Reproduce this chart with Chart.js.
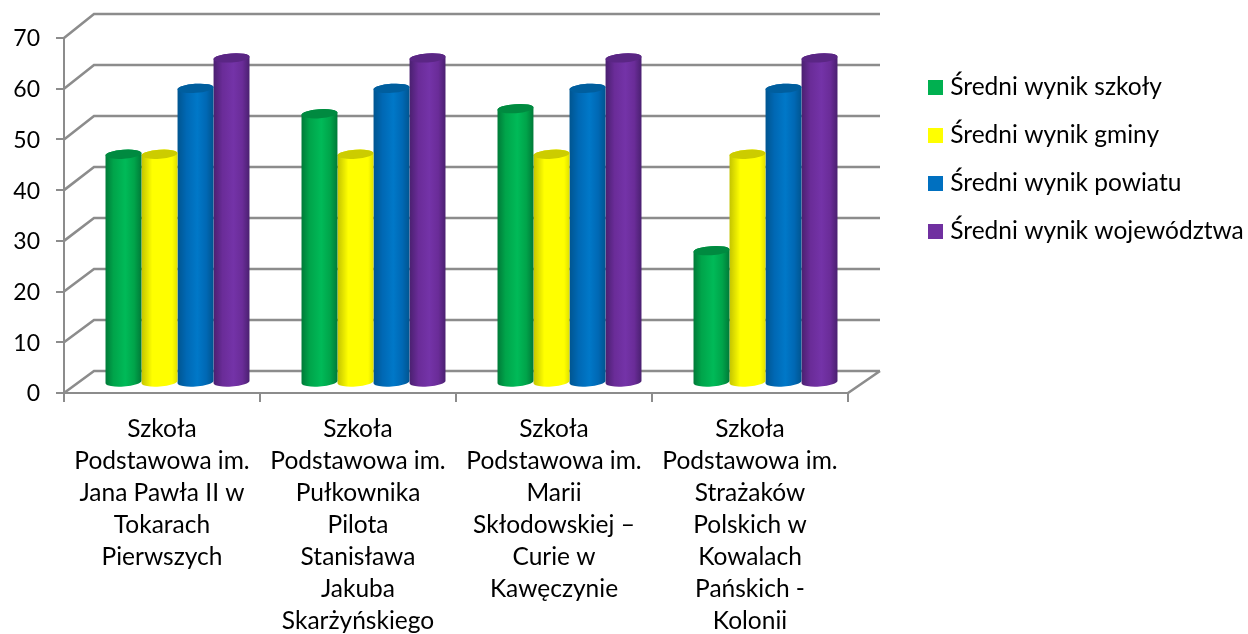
<!DOCTYPE html>
<html><head><meta charset="utf-8">
<style>html,body{margin:0;padding:0;background:#fff}#w{width:1248px;height:634px}</style>
<script src="https://cdn.jsdelivr.net/npm/chart.js@4"></script>
</head><body><div id="w"><canvas id="c" width="1248" height="634"></canvas></div>
<script>
const categories = [
  ["Szkoła","Podstawowa im.","Jana Pawła II w","Tokarach","Pierwszych"],
  ["Szkoła","Podstawowa im.","Pułkownika","Pilota","Stanisława","Jakuba","Skarżyńskiego"],
  ["Szkoła","Podstawowa im.","Marii","Skłodowskiej –","Curie w","Kawęczynie"],
  ["Szkoła","Podstawowa im.","Strażaków","Polskich w","Kowalach","Pańskich -","Kolonii"]
];
const seriesNames = ["Średni wynik szkoły","Średni wynik gminy","Średni wynik powiatu","Średni wynik województwa"];
const szkola = [45,53,54,26];
const gmina = [45,45,45,45];
const powiat = [58,58,58,58];
const wojewodztwo = [64,64,64,64];
const baseColors = ["#00B050","#FFFF00","#0070C0","#7030A0"];
const capColors = ["#008A40","#CCCC00","#005E9E","#5A2684"];
const stops = [
  [[0,"#007A38"],[0.22,"#00A44A"],[0.55,"#00BA58"],[0.8,"#00A44A"],[1,"#007A38"]],
  [[0,"#C4C400"],[0.3,"#FFFF00"],[0.85,"#FFFF00"],[1,"#E0E000"]],
  [[0,"#005590"],[0.25,"#0068B4"],[0.55,"#0078C8"],[0.8,"#0068B4"],[1,"#005590"]],
  [[0,"#4A2070"],[0.25,"#6A2C98"],[0.55,"#7433A8"],[0.8,"#6A2C98"],[1,"#4A2070"]]
];
const GRID = "#8C8C8C", DX = 30, BAR_DX = 15.5, BAR_DY = -10.5;
const backY = (py, v) => py - 22 - 2 * (v / 70);

const swatches = baseColors.map(c => {
  const s = document.createElement("canvas");
  s.width = 15; s.height = 15;
  const x = s.getContext("2d");
  x.fillStyle = c; x.fillRect(0, 0, 15, 15);
  return s;
});

const wall = {
  id: "wall",
  beforeLayout(chart) {
    const l = chart.legend;
    if (l && !l._wrapped) {
      const f = l.fit;
      l.fit = function () { f.call(this); this.width = 400; };
      l._wrapped = true;
    }
  },
  afterLayout(chart) {
    const l = chart.legend;
    l.left = 909.5; l.right = 1310; l.top = 51.5; l.bottom = 320;
    l.adjustHitBoxes();
  },
  beforeDatasetsDraw(chart) {
    const { ctx, scales: { x, y } } = chart;
    const xl = x.left, xr = x.right;
    ctx.save();
    ctx.strokeStyle = GRID; ctx.lineWidth = 2.6;
    ctx.beginPath();
    y.ticks.forEach(t => {
      const py = y.getPixelForValue(t.value), by = backY(py, t.value);
      ctx.moveTo(xl, py); ctx.lineTo(xl + DX, by); ctx.lineTo(xr + DX + 2, by);
    });
    const p0 = y.getPixelForValue(0);
    ctx.moveTo(xr, p0); ctx.lineTo(xr + DX + 2, backY(p0, 0));
    ctx.stroke();
    ctx.restore();
  },
  beforeDatasetDraw(chart, args) {
    const { ctx } = chart, i = args.index;
    ctx.save();
    ctx.translate(BAR_DX, BAR_DY);
    const tilt = -0.07;
    args.meta.data.forEach(el => {
      const w = el.width, l = el.x - w / 2, rx = w / 2, ry = 4.5;
      const g = ctx.createLinearGradient(l, 0, l + w, 0);
      stops[i].forEach(s => g.addColorStop(s[0], s[1]));
      ctx.fillStyle = g;
      ctx.beginPath();
      ctx.ellipse(el.x, el.y, rx, ry, tilt, Math.PI, 0);
      ctx.ellipse(el.x, el.base + 0.5, rx, ry, tilt, 0, Math.PI);
      ctx.closePath();
      ctx.fill();
      ctx.fillStyle = capColors[i];
      ctx.beginPath();
      ctx.ellipse(el.x, el.y, rx, ry, tilt, 0, Math.PI * 2);
      ctx.fill();
    });
    ctx.restore();
    return false;
  }
};

const font = { family: "Lato", size: 24.5 };
new Chart(document.getElementById("c"), {
  type: "bar",
  data: {
    labels: categories,
    datasets: seriesNames.map((n, i) => ({
      label: n,
      data: [szkola, gmina, powiat, wojewodztwo][i],
      backgroundColor: baseColors[i],
      categoryPercentage: 0.735,
      barPercentage: 1
    }))
  },
  options: {
    responsive: false,
    animation: false,
    layout: { padding: { top: 38, left: 0, right: 0, bottom: 0 } },
    scales: {
      x: {
        afterFit(s) { s.height = 241; },
        grid: { drawOnChartArea: false, color: GRID, lineWidth: 2, tickLength: 9 },
        border: { color: GRID, width: 2 },
        ticks: { color: "#000", font: { ...font, lineHeight: "32px" }, padding: 11, maxRotation: 0, minRotation: 0, autoSkip: false }
      },
      y: {
        min: 0, max: 70,
        afterFit(s) { s.width = 64; },
        grid: { drawOnChartArea: false, color: GRID, lineWidth: 2, tickLength: 8 },
        border: { color: GRID, width: 2 },
        ticks: { stepSize: 10, color: "#000", font: { family: "Lato", size: 23 }, padding: 16, labelOffset: 1 }
      }
    },
    plugins: {
      tooltip: { enabled: false },
      legend: {
        position: "right", align: "start",
        labels: {
          boxWidth: 5, boxHeight: 15, padding: 23.5, color: "#000", font, usePointStyle: true,
          generateLabels: ch => Chart.defaults.plugins.legend.labels.generateLabels(ch)
            .map((it, i) => ({ ...it, pointStyle: swatches[i] }))
        }
      }
    }
  },
  plugins: [wall]
});
</script></body></html>
